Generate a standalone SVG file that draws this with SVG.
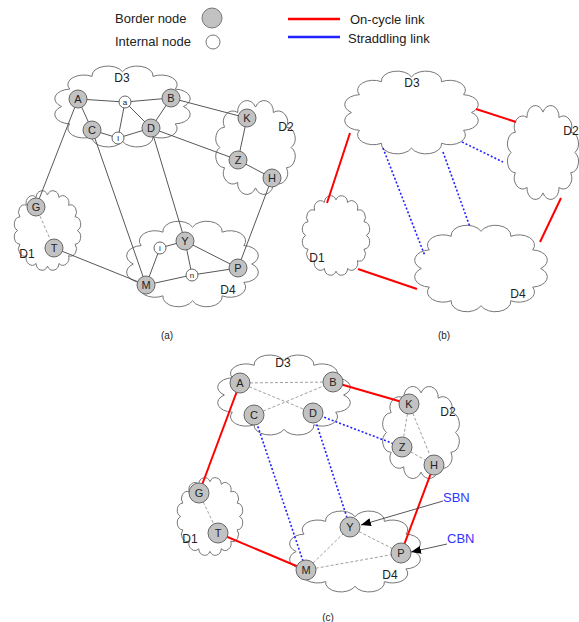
<svg xmlns="http://www.w3.org/2000/svg" xmlns:xlink="http://www.w3.org/1999/xlink" width="579" height="622" viewBox="0 0 579 622">
<style>
.cloud{fill:#fff;stroke:#777;stroke-width:1;vector-effect:non-scaling-stroke}
.e{stroke:#444;stroke-width:0.9;fill:none}
.g{stroke:#888;stroke-width:0.8;stroke-dasharray:3 2;fill:none}
.r{stroke:#f00;stroke-width:2;fill:none}
.b{stroke:#2222ff;stroke-width:1.6;stroke-dasharray:2 2;fill:none}
.ar{stroke:#444;stroke-width:0.9;fill:none}
.bn circle{fill:#c2c2c2;stroke:#666;stroke-width:1}
.in circle{fill:#fff;stroke:#666;stroke-width:1}
text{font-family:"Liberation Sans",Arial,sans-serif;fill:#222}
.n{font-size:11px;text-anchor:middle}
.ni{font-size:8px;text-anchor:middle}
.d{font-size:12px;text-anchor:middle}
.leg{font-size:13px}
.cap{font-size:10px;text-anchor:middle}
.bl{font-size:13px;fill:#3333ff}
</style>
<defs>
<path id="cA" class="cloud" d="M92,50 A11,11 0 0 1 86.4,70 A11,11 0 0 1 71,84.6 A11,11 0 0 1 50,90 A11,11 0 0 1 29,84.6 A11,11 0 0 1 13.6,70 A11,11 0 0 1 8,50 A11,11 0 0 1 13.6,30 A11,11 0 0 1 29,15.4 A11,11 0 0 1 50,10 A11,11 0 0 1 71,15.4 A11,11 0 0 1 86.4,30 A11,11 0 0 1 92,50 Z"/>
<path id="cB" class="cloud" d="M92,50 A8.5,8.5 0 0 1 88.8,66.1 A8.5,8.5 0 0 1 79.7,79.7 A8.5,8.5 0 0 1 66.1,88.8 A8.5,8.5 0 0 1 50,92 A8.5,8.5 0 0 1 33.9,88.8 A8.5,8.5 0 0 1 20.3,79.7 A8.5,8.5 0 0 1 11.2,66.1 A8.5,8.5 0 0 1 8,50 A8.5,8.5 0 0 1 11.2,33.9 A8.5,8.5 0 0 1 20.3,20.3 A8.5,8.5 0 0 1 33.9,11.2 A8.5,8.5 0 0 1 50,8 A8.5,8.5 0 0 1 66.1,11.2 A8.5,8.5 0 0 1 79.7,20.3 A8.5,8.5 0 0 1 88.8,33.9 A8.5,8.5 0 0 1 92,50 Z"/>
<marker id="arr" viewBox="0 0 10 8" refX="10" refY="4" markerWidth="10" markerHeight="8" markerUnits="userSpaceOnUse" orient="auto">
<path d="M0,0 L10,4 L0,8 Z" fill="#000"/>
</marker>
</defs>

<!-- Legend -->
<g id="legend">
<text class="leg" x="115" y="23">Border node</text>
<circle cx="212" cy="18" r="10" fill="#c2c2c2" stroke="#777"/>
<text class="leg" x="115" y="46">Internal node</text>
<circle cx="213" cy="42" r="7" fill="#fff" stroke="#777"/>
<line x1="288" y1="19" x2="340" y2="19" stroke="#f00" stroke-width="2.5"/>
<text class="leg" x="350" y="24">On-cycle link</text>
<line x1="288" y1="37" x2="340" y2="37" stroke="#22f" stroke-width="2.5"/>
<text class="leg" x="348" y="43">Straddling link</text>
</g>

<!-- Clouds -->
<g id="clouds">
<use xlink:href="#cA" transform="translate(50,63) scale(1.45,0.87)"/>
<use xlink:href="#cA" transform="translate(213,97) scale(0.85,1.01)"/>
<use xlink:href="#cB" transform="translate(12,188) scale(0.71,0.85)"/>
<use xlink:href="#cA" transform="translate(122,218) scale(1.41,0.92)"/>
<use xlink:href="#cA" transform="translate(340,68) scale(1.43,0.89)"/>
<use xlink:href="#cA" transform="translate(505,102) scale(0.76,1.01)"/>
<use xlink:href="#cB" transform="translate(300,193) scale(0.72,0.85)"/>
<use xlink:href="#cA" transform="translate(410,222) scale(1.42,0.93)"/>
<use xlink:href="#cA" transform="translate(213,352) scale(1.42,0.86)"/>
<use xlink:href="#cA" transform="translate(380,383) scale(0.82,0.99)"/>
<use xlink:href="#cB" transform="translate(175,475) scale(0.70,0.83)"/>
<use xlink:href="#cA" transform="translate(285,508) scale(1.40,0.87)"/>
</g>

<!-- Connectors -->
<g id="connectors">
<!-- (a) -->
<line class="e" x1="78" y1="99" x2="125" y2="102"/>
<line class="e" x1="125" y1="102" x2="171" y2="98"/>
<line class="e" x1="78" y1="99" x2="92" y2="130"/>
<line class="e" x1="125" y1="102" x2="118" y2="138"/>
<line class="e" x1="125" y1="102" x2="151" y2="128"/>
<line class="e" x1="92" y1="130" x2="118" y2="138"/>
<line class="e" x1="118" y1="138" x2="151" y2="128"/>
<line class="e" x1="151" y1="128" x2="171" y2="98"/>
<line class="e" x1="171" y1="98" x2="247" y2="118"/>
<line class="e" x1="151" y1="128" x2="238" y2="160"/>
<line class="e" x1="247" y1="118" x2="238" y2="160"/>
<line class="e" x1="238" y1="160" x2="272" y2="178"/>
<line class="e" x1="78" y1="99" x2="36" y2="207"/>
<line class="e" x1="92" y1="130" x2="146" y2="285"/>
<line class="e" x1="151" y1="128" x2="185" y2="241"/>
<line class="e" x1="272" y1="178" x2="238" y2="268"/>
<line class="g" x1="36" y1="207" x2="54" y2="248" stroke-dasharray="2 9"/>
<line class="e" x1="54" y1="248" x2="146" y2="285"/>
<line class="e" x1="146" y1="285" x2="160" y2="248"/>
<line class="e" x1="160" y1="248" x2="185" y2="241"/>
<line class="e" x1="185" y1="241" x2="192" y2="275"/>
<line class="e" x1="185" y1="241" x2="238" y2="268"/>
<line class="e" x1="146" y1="285" x2="192" y2="275"/>
<line class="e" x1="192" y1="275" x2="238" y2="268"/>
<!-- (b) -->
<line class="r" x1="476" y1="109" x2="516" y2="122"/>
<line class="r" x1="350" y1="133" x2="327" y2="203"/>
<line class="r" x1="358" y1="269" x2="417" y2="289"/>
<line class="r" x1="561" y1="198" x2="540" y2="242"/>
<line class="b" x1="383" y1="148" x2="425" y2="256"/>
<line class="b" x1="443" y1="152" x2="470" y2="227"/>
<line class="b" x1="462" y1="142" x2="503" y2="162"/>
<!-- (c) -->
<line class="g" x1="240" y1="383" x2="333" y2="382"/>
<line class="g" x1="240" y1="383" x2="313" y2="413"/>
<line class="g" x1="254" y1="415" x2="333" y2="382"/>
<line class="g" x1="409" y1="404" x2="402" y2="447"/>
<line class="g" x1="409" y1="404" x2="434" y2="465"/>
<line class="g" x1="402" y1="447" x2="434" y2="465"/>
<line class="g" x1="199" y1="493" x2="218" y2="533"/>
<line class="g" x1="306" y1="570" x2="350" y2="527"/>
<line class="g" x1="350" y1="527" x2="401" y2="553"/>
<line class="g" x1="306" y1="570" x2="401" y2="553"/>
<line class="r" x1="240" y1="383" x2="199" y2="493"/>
<line class="r" x1="333" y1="382" x2="409" y2="404"/>
<line class="r" x1="218" y1="533" x2="306" y2="570"/>
<line class="r" x1="434" y1="465" x2="401" y2="553"/>
<line class="b" x1="254" y1="415" x2="306" y2="570"/>
<line class="b" x1="313" y1="413" x2="350" y2="527"/>
<line class="b" x1="313" y1="413" x2="402" y2="447"/>
<line class="ar" x1="443" y1="501" x2="361" y2="525" marker-end="url(#arr)"/>
<line class="ar" x1="447" y1="544" x2="411" y2="552" marker-end="url(#arr)"/>
</g>

<!-- Nodes (a) -->
<g id="a-A" class="bn"><circle cx="78" cy="99" r="9"/><text class="n" x="78" y="103">A</text></g>
<g id="a-a" class="in"><circle cx="125" cy="102" r="6"/><text class="ni" x="125" y="105">a</text></g>
<g id="a-B" class="bn"><circle cx="171" cy="98" r="9"/><text class="n" x="171" y="102">B</text></g>
<g id="a-C" class="bn"><circle cx="92" cy="130" r="9"/><text class="n" x="92" y="134">C</text></g>
<g id="a-I" class="in"><circle cx="118" cy="138" r="6"/><text class="ni" x="118" y="141">I</text></g>
<g id="a-D" class="bn"><circle cx="151" cy="128" r="9"/><text class="n" x="151" y="132">D</text></g>
<g id="a-K" class="bn"><circle cx="247" cy="118" r="9"/><text class="n" x="247" y="122">K</text></g>
<g id="a-Z" class="bn"><circle cx="238" cy="160" r="9"/><text class="n" x="238" y="164">Z</text></g>
<g id="a-H" class="bn"><circle cx="272" cy="178" r="9"/><text class="n" x="272" y="182">H</text></g>
<g id="a-G" class="bn"><circle cx="36" cy="207" r="9"/><text class="n" x="36" y="211">G</text></g>
<g id="a-T" class="bn"><circle cx="54" cy="248" r="9"/><text class="n" x="54" y="252">T</text></g>
<g id="a-M" class="bn"><circle cx="146" cy="285" r="9"/><text class="n" x="146" y="289">M</text></g>
<g id="a-i" class="in"><circle cx="160" cy="248" r="6"/><text class="ni" x="160" y="251">i</text></g>
<g id="a-Y" class="bn"><circle cx="185" cy="241" r="9"/><text class="n" x="185" y="245">Y</text></g>
<g id="a-n" class="in"><circle cx="192" cy="275" r="6"/><text class="ni" x="192" y="278">n</text></g>
<g id="a-P" class="bn"><circle cx="238" cy="268" r="9"/><text class="n" x="238" y="272">P</text></g>

<!-- Nodes (c) -->
<g id="c-A" class="bn"><circle cx="240" cy="383" r="10"/><text class="n" x="240" y="387">A</text></g>
<g id="c-B" class="bn"><circle cx="333" cy="382" r="10"/><text class="n" x="333" y="386">B</text></g>
<g id="c-C" class="bn"><circle cx="254" cy="415" r="10"/><text class="n" x="254" y="419">C</text></g>
<g id="c-D" class="bn"><circle cx="313" cy="413" r="10"/><text class="n" x="313" y="417">D</text></g>
<g id="c-K" class="bn"><circle cx="409" cy="404" r="10"/><text class="n" x="409" y="408">K</text></g>
<g id="c-Z" class="bn"><circle cx="402" cy="447" r="10"/><text class="n" x="402" y="451">Z</text></g>
<g id="c-H" class="bn"><circle cx="434" cy="465" r="10"/><text class="n" x="434" y="469">H</text></g>
<g id="c-G" class="bn"><circle cx="199" cy="493" r="10"/><text class="n" x="199" y="497">G</text></g>
<g id="c-T" class="bn"><circle cx="218" cy="533" r="10"/><text class="n" x="218" y="537">T</text></g>
<g id="c-M" class="bn"><circle cx="306" cy="570" r="10"/><text class="n" x="306" y="574">M</text></g>
<g id="c-Y" class="bn"><circle cx="350" cy="527" r="10"/><text class="n" x="350" y="531">Y</text></g>
<g id="c-P" class="bn"><circle cx="401" cy="553" r="10"/><text class="n" x="401" y="557">P</text></g>

<!-- Domain labels and captions -->
<g id="labels">
<text class="d" x="122" y="82">D3</text>
<text class="d" x="286" y="131">D2</text>
<text class="d" x="27" y="258">D1</text>
<text class="d" x="228" y="294">D4</text>
<text class="d" x="412" y="87">D3</text>
<text class="d" x="571" y="135">D2</text>
<text class="d" x="317" y="262">D1</text>
<text class="d" x="518" y="298">D4</text>
<text class="d" x="283" y="367">D3</text>
<text class="d" x="448" y="416">D2</text>
<text class="d" x="190" y="543">D1</text>
<text class="d" x="390" y="579">D4</text>
<text class="cap" x="167" y="339">(a)</text>
<text class="cap" x="444" y="339">(b)</text>
<text class="cap" x="328" y="621">(c)</text>
<text class="bl" x="443" y="502">SBN</text>
<text class="bl" x="447" y="543">CBN</text>
</g>
</svg>
